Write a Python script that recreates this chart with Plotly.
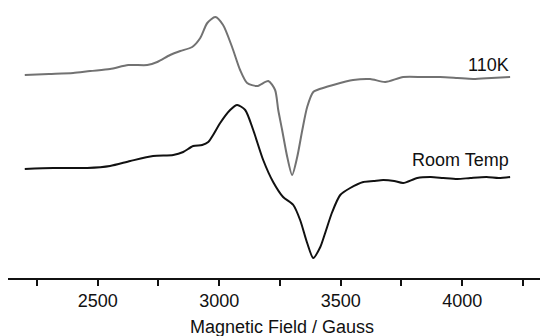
import plotly.graph_objects as go

# Gray trace: 110 K spectrum (field in Gauss, intensity in arbitrary units)
field_110k = [2200, 2300, 2399, 2469, 2551, 2626, 2704, 2745, 2798, 2840, 2889, 2922, 2951, 2984,
              3016, 3053, 3086, 3115, 3156, 3202, 3230, 3243, 3259, 3280, 3300, 3321, 3342, 3362,
              3387, 3403, 3469, 3551, 3621, 3683, 3757, 3840, 3909, 3980, 4045, 4120, 4197]
int_110k = [203, 204, 205, 207, 209, 213, 213, 216, 223, 227, 231, 240, 255, 261,
            253, 231, 208, 195, 192, 197, 188, 168, 148, 121, 103, 121, 148, 171,
            186, 188, 193, 198, 199, 196, 201, 201, 201, 200, 199, 200, 201]

# Black trace: room-temperature spectrum
field_rt = [2200, 2317, 2457, 2551, 2634, 2728, 2811, 2852, 2893, 2930, 2955, 2975, 3004,
            3045, 3074, 3107, 3140, 3181, 3222, 3263, 3305, 3333, 3362, 3387, 3416, 3436,
            3465, 3498, 3539, 3593, 3635, 3675, 3720, 3757, 3815, 3870, 3922, 3980, 4033,
            4100, 4150, 4197]
int_rt = [109, 110, 110, 112, 117, 122, 123, 126, 132, 133, 136, 143, 155,
          168, 173, 168, 148, 118, 96, 81, 73, 58, 35, 20, 31, 45,
          66, 83, 90, 96, 97, 98, 97, 95, 100, 101, 100, 99, 100,
          101, 100, 101]

trace_labels = ["110K", "Room Temp"]
x_tick_vals = [2500, 3000, 3500, 4000]
x_tick_text = ["2500", "3000", "3500", "4000"]
x_title = "Magnetic Field / Gauss"

FONT = "Liberation Sans, Arial, sans-serif"

fig = go.Figure()
fig.add_trace(go.Scatter(x=field_110k, y=int_110k, mode="lines",
                         line=dict(color="#727272", width=2, shape="spline", smoothing=0.7),
                         name=trace_labels[0], hoverinfo="skip"))
fig.add_trace(go.Scatter(x=field_rt, y=int_rt, mode="lines",
                         line=dict(color="#111111", width=2, shape="spline", smoothing=0.7),
                         name=trace_labels[1], hoverinfo="skip"))

fig.add_annotation(x=4200, y=213, xref="x", yref="y", text=trace_labels[0], showarrow=False,
                   xanchor="right", yanchor="middle", font=dict(family=FONT, size=18, color="#111"))
fig.add_annotation(x=4200, y=118, xref="x", yref="y", text=trace_labels[1], showarrow=False,
                   xanchor="right", yanchor="middle", font=dict(family=FONT, size=18, color="#111"))
fig.add_annotation(x=0.515, y=-0.176, xref="paper", yref="paper", text=x_title, showarrow=False,
                   xanchor="center", yanchor="middle", font=dict(family=FONT, size=18, color="#111"))

fig.update_layout(
    width=540, height=336,
    margin=dict(l=8, r=0, t=0, b=58),
    paper_bgcolor="white", plot_bgcolor="white",
    showlegend=False,
    font=dict(family=FONT, size=18, color="#111"),
    xaxis=dict(range=[2131, 4320], tickvals=x_tick_vals, ticktext=x_tick_text,
               ticks="outside", ticklen=6, tickwidth=1.5, tickcolor="#111",
               showline=True, linecolor="#111", linewidth=1.5,
               showgrid=False, zeroline=False,
               minor=dict(dtick=250, tick0=2250, ticks="outside", ticklen=6, tickwidth=1.5,
                          tickcolor="#111", showgrid=False),
               tickfont=dict(family=FONT, size=18, color="#111")),
    yaxis=dict(range=[0, 278], visible=False, showgrid=False, zeroline=False),
)

fig.write_html("out.html")
